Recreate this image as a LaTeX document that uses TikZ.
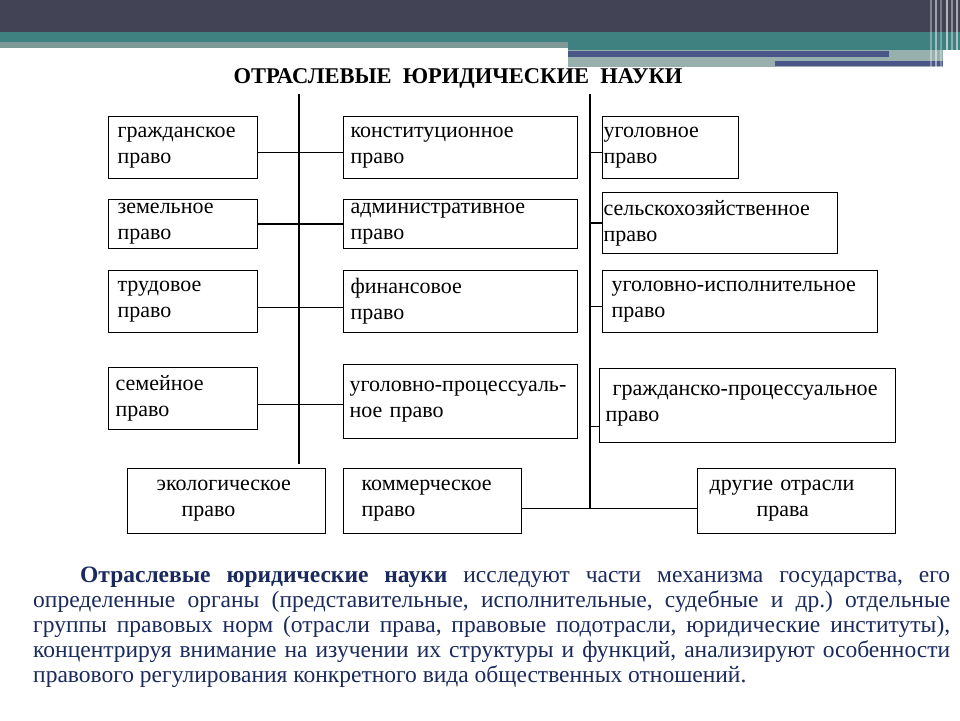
\documentclass[tikz,border=0pt]{standalone}
\usepackage{fontspec}
\setmainfont{Liberation Serif}
\usepackage{xcolor}
\usepackage{tikz}
\usetikzlibrary{positioning}

\definecolor{headdark}{HTML}{424456}
\definecolor{headteal}{HTML}{3F8080}
\definecolor{headgrey}{HTML}{7F9999}
\definecolor{headlight}{HTML}{97B0AE}
\definecolor{headblue}{HTML}{4B5688}
\definecolor{textnavy}{HTML}{1B2A5C}

\newcommand{\boxfont}{\fontsize{22}{26}\selectfont}
\newcommand{\titlefont}{\fontsize{22.5}{26}\selectfont\bfseries}
\newcommand{\parfont}{\fontsize{23.5}{25}\selectfont\frenchspacing}

\tikzset{
  lawbox/.style n args={3}{draw, line width=1.2pt, anchor=north west,
    inner xsep=#3, inner ysep=0pt, text width=#1-2*#3,
    minimum height=#2, align=left, font=\boxfont},
  link/.style={line width=1.5pt},
}

\begin{document}
\begin{tikzpicture}[x=1pt, y=-1pt]
\useasboundingbox (0,0) rectangle (960,720);
\fill[white] (0,0) rectangle (960,720);
% header bars
\fill[headdark] (0,0) rectangle (960,32);
\fill[headteal] (0,32) rectangle (960,42);
\fill[headgrey] (0,42) rectangle (568,48);
\fill[headteal] (568,42) rectangle (960,50);
\fill[headlight] (568,50) rectangle (943,67);
\fill[headblue] (568,51) rectangle (889,57);
\fill[headblue] (775,61) rectangle (943,66);
\foreach \x/\o in {930/0.35, 935/0.5, 940/0.3, 946/0.6, 951/0.4, 956/0.55}
  \fill[white, opacity=\o] (\x,0) rectangle (\x+2,67);

\node[font=\titlefont] (title) at (458,78) {ОТРАСЛЕВЫЕ\ \ ЮРИДИЧЕСКИЕ\ \ НАУКИ};

% left column
\node[lawbox={149pt}{62pt}{9pt}] (grazh) at (108,116) {гражданское\\право};
\node[lawbox={149pt}{49pt}{9pt}] (zemel) at (108,199) {земельное\\право};
\node[lawbox={149pt}{62pt}{9pt}] (trud) at (108,270) {трудовое\\право};
\node[lawbox={149pt}{62pt}{7pt}] (semei) at (108,367) {семейное\\право};
\node[lawbox={198pt}{65pt}{29pt}] (ekolog) at (127,468) {экологическое\\\hspace*{25pt}право};

% middle column
\node[lawbox={234pt}{62pt}{7pt}] (konst) at (343,116) {конституционное\\право};
\node[lawbox={234pt}{49pt}{7pt}] (admin) at (343,199) {административное\\право};
\node[lawbox={234pt}{62pt}{7pt}] (finan) at (343,270) {финансовое\\право};
\node[lawbox={234pt}{74pt}{6pt}] (ugproc) at (343,364) {уголовно-процессуаль-\\ное право};
\node[lawbox={178pt}{65pt}{18pt}] (kommer) at (343,468) {коммерческое\\право};

% right column
\node[lawbox={136pt}{62pt}{1pt}] (ugol) at (602,116) {уголовное\\право};
\node[lawbox={235pt}{61pt}{1pt}] (selkh) at (602,192) {сельскохозяйственное\\право};
\node[lawbox={275pt}{62pt}{9pt}] (ugisp) at (602,270) {уголовно-исполнительное\\право};
\node[lawbox={296pt}{74pt}{6pt}] (grproc) at (599,368) {\hspace*{7pt}гражданско-процессуальное\\право};
\node[lawbox={198pt}{65pt}{12pt}] (drugie) at (697,468) {другие отрасли\\\hspace*{47pt}права};

% trunks
\coordinate (ltop) at (299,94);
\coordinate (lbot) at (299,464);
\coordinate (rtop) at (590,94);
\coordinate (rbot) at (590,508);
\draw[link] (ltop) -- (lbot);
\draw[link] (rtop) -- (rbot);

% branches
\foreach \a/\b/\da/\db in {grazh/konst/5/5, zemel/admin/0/0, trud/finan/6/6, semei/ugproc/6/3}
  \draw[link] ([yshift=-\da pt]\a.east) -- ([yshift=-\db pt]\b.west);
\foreach \b/\d in {ugol/5, selkh/0, ugisp/5, grproc/21}{
  \coordinate (stub) at ([yshift=-\d pt]\b.west);
  \draw[link] (stub) -- (stub -| rtop);
}
\draw[link] ([yshift=-7.5pt]kommer.east) -- ([yshift=-7.5pt]drugie.west);

% text below
\node[anchor=north west, text width=917pt, align=justify, inner sep=0pt,
  font=\parfont, text=textnavy] (para) at (33,567)
  {\hspace*{47pt}\textbf{Отраслевые юридические науки} исследуют части механизма государства, его\linebreak
   определенные органы (представительные, исполнительные, судебные и др.) отдельные\linebreak
   группы правовых норм (отрасли права, правовые подотрасли, юридические институты),\linebreak
   концентрируя внимание на изучении их структуры и функций, анализируют особенности\linebreak
   правового регулирования конкретного вида общественных отношений.};
\end{tikzpicture}
\end{document}
